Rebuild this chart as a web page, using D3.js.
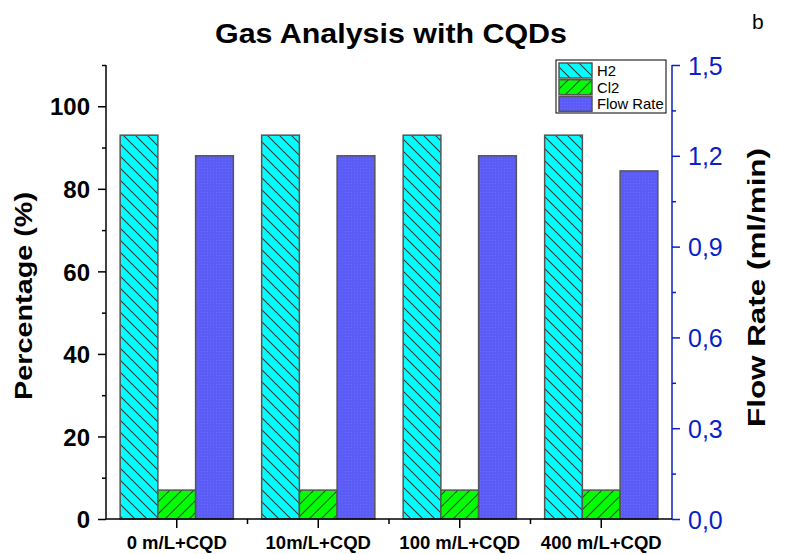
<!DOCTYPE html>
<html><head><meta charset="utf-8">
<script src="https://cdn.jsdelivr.net/npm/d3@7"></script>
<style>body{margin:0;background:#fff}svg{display:block;font-family:"Liberation Sans",Arial,sans-serif}</style>
</head><body><svg id="c" width="794" height="554"></svg>
<script>
const categories = ["0 m/L+CQD","10m/L+CQD","100 m/L+CQD","400 m/L+CQD"];
const h2 = [93,93,93,93];
const cl2 = [7,7,7,7];
const flowRate = [1.2,1.2,1.2,1.15];
const leftTicks = [0,20,40,60,80,100];
const rightTicks = [0,0.3,0.6,0.9,1.2,1.5];
const seriesNames = ["H2","Cl2","Flow Rate"];

const FF = "'Liberation Sans',Arial,sans-serif";
const svg = d3.select("#c");
const m = {l:106, r:672, t:65, b:519};
const blue = "#0a1fc8";

const defs = svg.append("defs");
function hatch(id, fill, dir){
  const p = defs.append("pattern").attr("id",id).attr("patternUnits","userSpaceOnUse")
    .attr("width",12).attr("height",12);
  p.append("rect").attr("width",12).attr("height",12).attr("fill",fill);
  const d = dir==="back" ? "M-3,-3 L15,15 M-3,9 L3,15 M9,-3 L15,3" : "M-3,15 L15,-3 M-3,3 L3,-3 M9,15 L15,9";
  p.append("path").attr("d",d).attr("stroke","#3a3a3a").attr("stroke-width",1.1);
}
hatch("hH2","#00ffff","back");
hatch("hCl2","#00ff00","fwd");
const pf = defs.append("pattern").attr("id","hFlow").attr("patternUnits","userSpaceOnUse").attr("width",3).attr("height",3);
pf.append("rect").attr("width",3).attr("height",3).attr("fill","#5b5cf6");
pf.append("rect").attr("width",1).attr("height",1).attr("fill","#6a6bff");

const x = d3.scaleBand().domain(categories).range([m.l,m.r]).padding(0);
const inner = d3.scaleBand().domain(seriesNames).range([0,x.bandwidth()]).paddingInner(0).paddingOuter(0.375);
const yL = d3.scaleLinear().domain([0,110]).range([m.b,m.t]);
const yR = d3.scaleLinear().domain([0,1.5]).range([m.b,m.t]);

const data = categories.map((c,i)=>({c, vals:[
  {s:"H2", y:yL(h2[i]), fill:"url(#hH2)"},
  {s:"Cl2", y:yL(cl2[i]), fill:"url(#hCl2)"},
  {s:"Flow Rate", y:yR(flowRate[i]), fill:"url(#hFlow)"}]}));

const g = svg.append("g");
data.forEach(d=>{
  g.selectAll(null).data(d.vals).enter().append("rect")
    .attr("x",v=>x(d.c)+inner(v.s)).attr("width",inner.bandwidth())
    .attr("y",v=>v.y).attr("height",v=>m.b-v.y)
    .attr("fill",v=>v.fill).attr("stroke","#555").attr("stroke-width",1.5);
});

// left axis
const la = svg.append("g").attr("transform",`translate(${m.l},0)`)
  .call(d3.axisLeft(yL).tickValues(leftTicks).tickSize(8).tickPadding(8));
la.select(".domain").attr("stroke","#000").attr("stroke-width",1.5).attr("d",`M0,${m.t}V${m.b}`);
la.selectAll(".tick line").attr("stroke-width",1.5);
la.selectAll(".tick text").attr("font-size",24).attr("font-weight","bold").attr("fill","#000").attr("font-family",FF).attr("dy","0.36em");
const laMinor = svg.append("g").attr("transform",`translate(${m.l},0)`)
  .call(d3.axisLeft(yL).tickValues([10,30,50,70,90,110]).tickSize(4).tickFormat(""));
laMinor.select(".domain").remove();
laMinor.selectAll(".tick line").attr("stroke-width",1.5);

// right axis
const fmt = v=>d3.format(".1f")(v).replace(".",",");
const ra = svg.append("g").attr("transform",`translate(${m.r},0)`)
  .call(d3.axisRight(yR).tickValues(rightTicks).tickSize(8).tickPadding(8).tickFormat(fmt));
ra.select(".domain").attr("stroke",blue).attr("stroke-width",1.5).attr("d",`M0,${m.t}V${m.b}`);
ra.selectAll(".tick line").attr("stroke",blue).attr("stroke-width",1.5);
ra.selectAll(".tick text").attr("font-size",25).attr("fill",blue).attr("font-family",FF).attr("dy","0.36em");
const raMinor = svg.append("g").attr("transform",`translate(${m.r},0)`)
  .call(d3.axisRight(yR).tickValues([0.15,0.45,0.75,1.05,1.35]).tickSize(4).tickFormat(""));
raMinor.select(".domain").remove();
raMinor.selectAll(".tick line").attr("stroke",blue).attr("stroke-width",1.5);

// bottom axis
const ba = svg.append("g").attr("transform",`translate(0,${m.b})`)
  .call(d3.axisBottom(x).tickSize(9).tickPadding(0));
ba.select(".domain").attr("stroke","#000").attr("stroke-width",1.5).attr("d",`M${m.l},0H${m.r}`);
ba.selectAll(".tick line").attr("stroke-width",1.5);
ba.selectAll(".tick text").attr("font-size",18.5).attr("font-weight","bold").attr("fill","#000").attr("font-family",FF)
  .attr("y",30).attr("dy",0);
const bounds = categories.slice(1).map(c=>x(c));
svg.append("g").selectAll("line").data(bounds).enter().append("line")
  .attr("x1",d=>d).attr("x2",d=>d).attr("y1",m.b).attr("y2",m.b+5).attr("stroke","#000").attr("stroke-width",1.5);

// titles
svg.append("text").attr("x",391).attr("y",43).attr("text-anchor","middle")
  .attr("font-size",28).attr("font-weight","bold").attr("textLength",352).attr("lengthAdjust","spacingAndGlyphs")
  .text("Gas Analysis with CQDs");
svg.append("text").attr("x",752).attr("y",29).attr("font-size",21).text("b");
svg.append("text").attr("transform",`translate(32,296) rotate(-90)`).attr("text-anchor","middle")
  .attr("font-size",24).attr("font-weight","bold").attr("textLength",208).attr("lengthAdjust","spacingAndGlyphs")
  .text("Percentage (%)");
svg.append("text").attr("transform",`translate(765,287.5) rotate(-90)`).attr("text-anchor","middle")
  .attr("font-size",23).attr("font-weight","bold").attr("textLength",279).attr("lengthAdjust","spacingAndGlyphs")
  .text("Flow Rate (ml/min)");

// legend
const lg = svg.append("g");
lg.append("rect").attr("x",556).attr("y",60).attr("width",110).attr("height",53).attr("fill","#fff").attr("stroke","#000").attr("stroke-width",1);
const lfills = ["url(#hH2)","url(#hCl2)","url(#hFlow)"];
seriesNames.forEach((s,i)=>{
  lg.append("rect").attr("x",559).attr("y",63+i*16.7).attr("width",33).attr("height",15)
    .attr("fill",lfills[i]).attr("stroke","#555").attr("stroke-width",1.5);
  lg.append("text").attr("x",597).attr("y",76+i*16.7).attr("font-size",14.8).attr("font-family",FF).text(s);
});
</script></body></html>
